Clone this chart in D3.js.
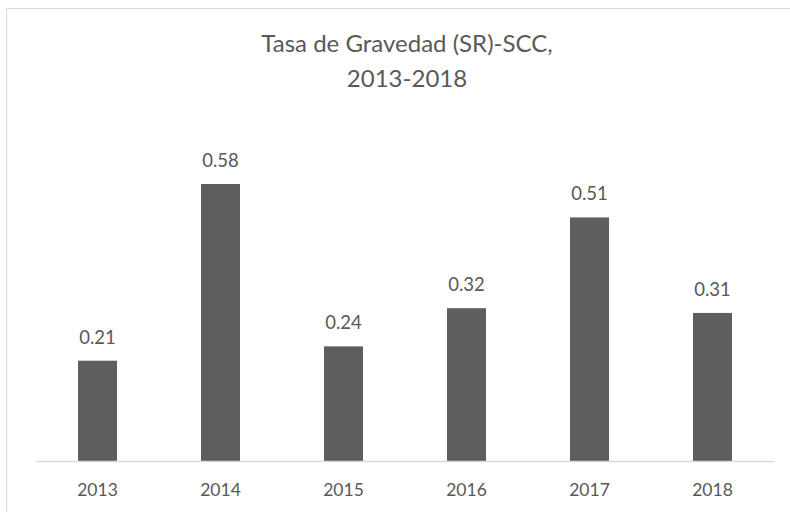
<!DOCTYPE html>
<html>
<head>
<meta charset="utf-8">
<script src="https://cdn.jsdelivr.net/npm/d3@7"></script>
<style>
  body { margin: 0; background: #fff; }
  text { font-family: Lato, "Open Sans", sans-serif; fill: #595959; }
</style>
</head>
<body>
<svg id="chart" width="790" height="512"></svg>
<script>
const years = ["2013", "2014", "2015", "2016", "2017", "2018"];
const rates = [0.21, 0.58, 0.24, 0.32, 0.51, 0.31];
const titleLines = ["Tasa de Gravedad (SR)-SCC,", "2013-2018"];

const svg = d3.select("#chart");
const left = 36, right = 774, base = 461;

// chart frame (runs off the right and bottom of the picture)
svg.append("rect")
    .attr("x", 6.5).attr("y", 8.5)
    .attr("width", 800).attr("height", 520)
    .attr("fill", "none")
    .attr("stroke", "#d9d9d9");

// title, two lines
svg.selectAll(".title")
    .data(titleLines)
    .enter()
    .append("text")
    .attr("class", "title")
    .attr("x", 407)
    .attr("y", (d, i) => 52 + i * 35)
    .attr("text-anchor", "middle")
    .style("font-size", "24px")
    .text(d => d);

let xScale = d3.scaleBand()
    .domain(years)
    .range([left, right])
    .paddingInner(0.683)
    .paddingOuter(0.3415);

let yScale = d3.scaleLinear()
    .domain([0, 0.7])
    .range([base, base - 0.7 * 477.6]);

svg.selectAll(".bar")
    .data(rates)
    .enter()
    .append("rect")
    .attr("class", "bar")
    .attr("x", (d, i) => xScale(years[i]))
    .attr("y", d => yScale(d))
    .attr("width", xScale.bandwidth())
    .attr("height", d => base - yScale(d))
    .attr("fill", "#5e5e5e");

// value labels above bars
svg.selectAll(".val")
    .data(rates)
    .enter()
    .append("text")
    .attr("class", "val")
    .attr("x", (d, i) => xScale(years[i]) + xScale.bandwidth() / 2)
    .attr("y", d => yScale(d) - 17)
    .attr("text-anchor", "middle")
    .style("font-size", "18.5px")
    .text(d => d.toFixed(2));

// x axis: baseline and year labels
let xAxis = svg.append("g")
    .attr("transform", `translate(0,${base})`)
    .call(d3.axisBottom(xScale).tickSize(0).tickPadding(0));
xAxis.select(".domain").attr("stroke", "#d9d9d9").attr("stroke-width", 1.5);
xAxis.selectAll(".tick text")
    .attr("fill", "#595959")
    .attr("dy", null)
    .attr("y", 35)
    .style("font-size", "17.5px")
    .style("font-family", "Lato, 'Open Sans', sans-serif");
</script>
</body>
</html>
